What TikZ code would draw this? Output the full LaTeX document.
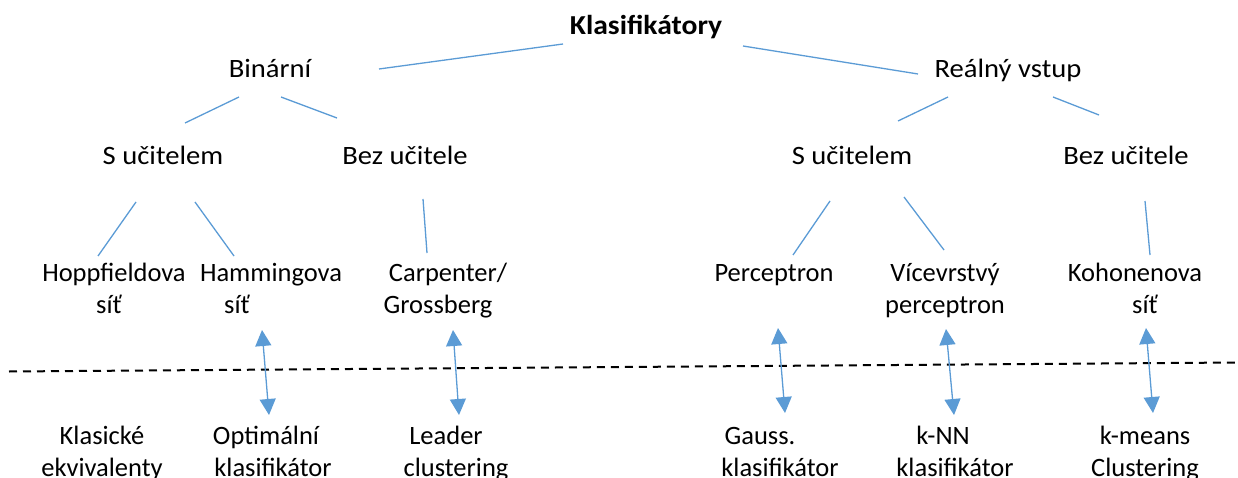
\documentclass[tikz,border=0pt]{standalone}
\usepackage{fontspec}
\setmainfont{Carlito}[FakeStretch=1.08]
\newfontfamily\plainfont{Carlito}
\usetikzlibrary{arrows.meta}
\definecolor{linkblue}{HTML}{5B9BD5}
% shift a line's centre by #1
\newcommand{\shiftline}[2]{\makebox[0pt]{\hspace*{#1}\hspace*{#1}#2}}
\begin{document}
\begin{tikzpicture}[x=1pt,y=-1pt,
  lbl/.style={font=\fontsize{26.5}{32}\selectfont, inner sep=0pt, anchor=base, align=center},
  boldlbl/.style={lbl, font=\fontsize{27.4}{32}\selectfont\bfseries},
  leaf/.style={lbl, font=\plainfont\fontsize{26.5}{32}\selectfont},
  link/.style={draw=linkblue, line width=1.3pt},
  twoway/.style={link, {Triangle[width=16pt,length=16pt]}-{Triangle[width=16pt,length=16pt]}},
  divider/.style={draw=black, line width=2pt, dash pattern=on 8pt off 6pt}]
\useasboundingbox (0,0) rectangle (1238,478);

% nodes (base anchor = baseline of last line)
\node[boldlbl] (root) at (646,35) {Klasifikátory};
\node[lbl] (bin) at (270,78) {Binární};
\node[lbl] (real) at (1008,78) {Reálný vstup};
\node[lbl] (bsu) at (163,165) {S učitelem};
\node[lbl] (bbu) at (405,165) {Bez učitele};
\node[lbl] (rsu) at (852,165) {S učitelem};
\node[lbl] (rbu) at (1126,165) {Bez učitele};
\node[leaf] (hop) at (114,313) {Hoppfieldova\\\shiftline{-5pt}{síť}};
\node[leaf] (ham) at (271,313) {Hammingova\\\shiftline{-34pt}{síť}};
\node[leaf] (carp) at (448,313) {Carpenter/\\\shiftline{-10pt}{Grossberg}};
\node[leaf] (perc) at (774,281.5) {Perceptron};
\node[leaf] (mlp) at (945,313) {Vícevrstvý\\perceptron};
\node[leaf] (koh) at (1135,313) {Kohonenova\\\shiftline{10pt}{síť}};
\node[leaf] (klas) at (102,476) {Klasické\\ekvivalenty};
\node[leaf] (opt) at (266,476) {Optimální\\\shiftline{7pt}{klasifikátor}};
\node[leaf] (lead) at (446,476) {Leader\\\shiftline{10pt}{clustering}};
\node[leaf] (gauss) at (760,476) {Gauss.\\\shiftline{20pt}{klasifikátor}};
\node[leaf] (knn) at (943,476) {k-NN\\\shiftline{12pt}{klasifikátor}};
\node[leaf] (kmeans) at (1145,476) {k-means\\Clustering};

% connector end points
\coordinate (rootL) at (563,44);  \coordinate (binT) at (379,69);
\coordinate (rootR) at (743,46);  \coordinate (realT) at (918,74);
\coordinate (binL) at (239,97);   \coordinate (bsuT) at (185,123);
\coordinate (binR) at (281,97);   \coordinate (bbuT) at (337,118);
\coordinate (realL) at (948,97);  \coordinate (rsuT) at (898,121);
\coordinate (realR) at (1053,97); \coordinate (rbuT) at (1099,115);
\coordinate (bsuL) at (136,202);  \coordinate (hopT) at (98,256);
\coordinate (bsuR) at (195,202);  \coordinate (hamT) at (234,256);
\coordinate (bbuB) at (423,199);  \coordinate (carpT) at (427,253);
\coordinate (rsuL) at (830,201);  \coordinate (percT) at (793,255);
\coordinate (rsuR) at (904,197);  \coordinate (mlpT) at (944,250);
\coordinate (rbuB) at (1145,201); \coordinate (kohT) at (1150,255);

\coordinate (hamB) at (262,330);  \coordinate (optT) at (269,415);
\coordinate (carpB) at (453,330); \coordinate (leadT) at (459,415);
\coordinate (percB) at (778,328); \coordinate (gaussT) at (785,413);
\coordinate (mlpB) at (946,329);  \coordinate (knnT) at (954,415);
\coordinate (kohB) at (1146,328); \coordinate (kmeansT) at (1153,413);

\coordinate (divL) at (9,371.5);  \coordinate (divR) at (1238,362.5);

% tree connectors
\draw[link] (rootL) -- (binT);
\draw[link] (rootR) -- (realT);
\draw[link] (binL) -- (bsuT);
\draw[link] (binR) -- (bbuT);
\draw[link] (realL) -- (rsuT);
\draw[link] (realR) -- (rbuT);
\draw[link] (bsuL) -- (hopT);
\draw[link] (bsuR) -- (hamT);
\draw[link] (bbuB) -- (carpT);
\draw[link] (rsuL) -- (percT);
\draw[link] (rsuR) -- (mlpT);
\draw[link] (rbuB) -- (kohT);

% divider
\draw[divider] (divL) -- (divR);

% equivalence arrows
\draw[twoway] (hamB) -- (optT);
\draw[twoway] (carpB) -- (leadT);
\draw[twoway] (percB) -- (gaussT);
\draw[twoway] (mlpB) -- (knnT);
\draw[twoway] (kohB) -- (kmeansT);
\end{tikzpicture}
\end{document}
